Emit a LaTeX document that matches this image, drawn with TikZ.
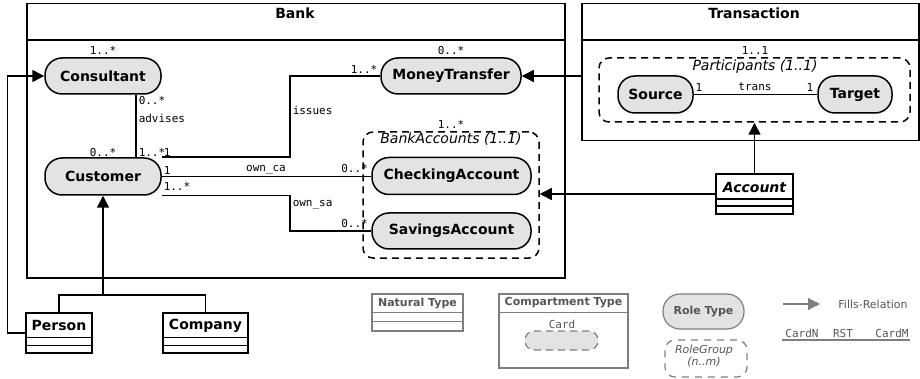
\documentclass[tikz,border=0pt]{standalone}
\usepackage{fontspec}
\setmainfont{DejaVu Sans}
\newfontfamily\monof{DejaVu Sans Mono}
\usetikzlibrary{arrows.meta}
\definecolor{rolefill}{HTML}{E3E3E3}
\definecolor{lgline}{HTML}{7F7F7F}
\definecolor{lgtext}{HTML}{555555}
\tikzset{
  role/.style={draw, fill=rolefill, rounded corners=17pt, inner sep=0pt, font=\fontsize{14}{16}\selectfont\bfseries},
  card/.style={inner sep=0pt, font=\monof\fontsize{11}{13}\selectfont},
  grplabel/.style={inner sep=0pt, font=\fontsize{14}{16}\selectfont\itshape},
  fills/.style={-{Triangle[length=12pt,width=12pt]}},
  rgroup/.style={draw, dash pattern=on 7pt off 5pt, rounded corners=10pt, inner sep=0pt},
  compbox/.style={draw, inner sep=0pt, anchor=north west},
  header/.style={inner sep=0pt, font=\fontsize{14}{16}\selectfont\bfseries},
  cls/.style={draw, inner sep=0pt},
  clsname/.style={inner sep=0pt, font=\fontsize{14}{16}\selectfont\bfseries},
  lg/.style={draw=lgline, line width=1.2pt},
  lgtxt/.style={inner sep=0pt, text=lgtext},
}
\begin{document}
\begin{tikzpicture}[x=1pt, y=-1pt, line width=1.5pt]
\useasboundingbox (0,0) rectangle (920,379);

% ---------- Bank compartment ----------
\node[compbox, minimum width=538pt, minimum height=274pt] (bank) at (26,3) {};
\draw ([yshift=-37pt]bank.north west) -- ([yshift=-37pt]bank.north east);
\node[header] (bankname) at (295,13) {Bank};

% ---------- Transaction compartment ----------
\node[compbox, minimum width=337pt, minimum height=137pt] (tbox) at (581,3) {};
\draw ([yshift=-37pt]tbox.north west) -- ([yshift=-37pt]tbox.north east);
\node[header] (tname) at (754,13) {Transaction};

% ---------- groups ----------
\node[rgroup, minimum width=176pt, minimum height=126pt] (bagrp) at (451,195) {};
\node[grplabel] (balbl) at (451,139) {BankAccounts (1..1)};
\node[card] (bacard) at (451,124) {1..*};

\node[rgroup, minimum width=311pt, minimum height=64pt] (pgrp) at (754.5,90) {};
\node[grplabel] (plbl) at (755,67) {Participants (1..1)};
\node[card] (pcard) at (755,50) {1..1};

% ---------- roles ----------
\node[role, minimum width=116pt, minimum height=36pt] (cons) at (103,76) {Consultant};
\node[role, minimum width=116pt, minimum height=37pt] (cust) at (103,176.5) {Customer};
\node[role, minimum width=140pt, minimum height=36pt] (mt) at (451,76) {MoneyTransfer};
\node[role, minimum width=159pt, minimum height=37pt] (chk) at (451.5,176) {CheckingAccount};
\node[role, minimum width=159pt, minimum height=36pt] (sav) at (451.5,231) {SavingsAccount};
\node[role, minimum width=75pt, minimum height=37pt] (src) at (655.5,94.5) {Source};
\node[role, minimum width=74pt, minimum height=37pt] (tgt) at (855,94.5) {Target};

% ---------- natural types ----------
\node[cls, minimum width=77pt, minimum height=40pt] (acct) at (754.5,194) {};
\node[clsname, font=\fontsize{14}{16}\selectfont\bfseries\itshape] (acctname) at (754.5,187) {Account};
\draw ([yshift=-26pt]acct.north west) -- ([yshift=-26pt]acct.north east);
\draw ([yshift=-33pt]acct.north west) -- ([yshift=-33pt]acct.north east);

\node[cls, minimum width=66pt, minimum height=40pt] (person) at (59,333) {};
\node[clsname] (pname) at (59,325.5) {Person};
\draw ([yshift=-25pt]person.north west) -- ([yshift=-25pt]person.north east);
\draw ([yshift=-33pt]person.north west) -- ([yshift=-33pt]person.north east);

\node[cls, minimum width=85pt, minimum height=40pt] (comp) at (205.5,333) {};
\node[clsname] (cname) at (205.5,325.5) {Company};
\draw ([yshift=-25pt]comp.north west) -- ([yshift=-25pt]comp.north east);
\draw ([yshift=-33pt]comp.north west) -- ([yshift=-33pt]comp.north east);

% ---------- relationships ----------
\draw ([xshift=33pt]cons.south) -- ([xshift=33pt]cust.north);
\node[card, anchor=west] (c1) at (138,100) {0..*};
\node[card, anchor=west] (adv) at (138,118) {advises};
\node[card] (c2) at (103,50) {1..*};
\node[card] (c3) at (103,152) {0..*};
\node[card, anchor=west] (c4) at (138,152) {1..*};

\coordinate (jx) at (290,0);
\draw (cust.north east) -| (jx |- mt.west) -- (mt.west);
\node[card, anchor=west] (c5) at (163,152) {1};
\node[card, anchor=west] (iss) at (292,110) {issues};
\node[card, anchor=east] (c6) at (378,69) {1..*};
\node[card] (c7) at (451,50) {0..*};

\draw (cust.east) -- (cust.east -| chk.west);
\node[card, anchor=west] (c8) at (163,170) {1};
\node[card] (oca) at (266,170) {own\_ca};
\node[card] (c9) at (354.5,168) {0..*};

\draw (cust.south east) -| (jx |- sav.west) -- (sav.west);
\node[card, anchor=west] (c10) at (163,186) {1..*};
\node[card, anchor=west] (osa) at (292,205) {own\_sa};
\node[card] (c11) at (354.5,223) {0..*};

\draw (src.east) -- (tgt.west);
\node[card] (c12) at (699,87) {1};
\node[card] (trn) at (755,87) {trans};
\node[card] (c13) at (810,87) {1};

% ---------- fills relations ----------
\draw[fills] (tbox.west |- mt.east) -- (mt.east);
\draw[fills] (acct.west) -- (acct.west -| bagrp.east);
\draw[fills] (acct.north) -- (pgrp.south);
\draw[fills] (person.west) -- ++(-18,0) |- (cons.west);
\coordinate (gen) at (103,295);
\draw (person.north) |- (gen) -| (comp.north);
\draw[fills] (gen) -- (cust.south);

% ---------- legend ----------
\node[cls, lg, minimum width=91pt, minimum height=37pt] (lnat) at (417.5,312.5) {};
\node[lgtxt, font=\fontsize{11}{13}\selectfont\bfseries] (lnatname) at (417.5,303.5) {Natural Type};
\draw[lg] ([yshift=-19pt]lnat.north west) -- ([yshift=-19pt]lnat.north east);
\draw[lg] ([yshift=-28pt]lnat.north west) -- ([yshift=-28pt]lnat.north east);

\node[cls, lg, minimum width=129pt, minimum height=74pt] (lcomp) at (563.5,331) {};
\node[lgtxt, font=\fontsize{11}{13}\selectfont\bfseries] (lcompname) at (563.5,303) {Compartment Type};
\draw[lg] ([yshift=-19pt]lcomp.north west) -- ([yshift=-19pt]lcomp.north east);
\node[lgtxt, font=\monof\fontsize{11}{13}\selectfont] (lcard) at (562,324) {Card};
\node[draw=lgline, line width=1.2pt, fill=rolefill, dash pattern=on 7pt off 5pt, rounded corners=9pt, minimum width=73pt, minimum height=19pt, inner sep=0pt] (lgpill) at (561.5,340.5) {};

\node[role, draw=lgline, line width=1.2pt, text=lgtext, font=\fontsize{11}{13}\selectfont\bfseries, minimum width=81pt, minimum height=35pt] (lrole) at (703.5,311.5) {Role Type};
\node[rgroup, draw=lgline, line width=1.2pt, minimum width=82pt, minimum height=37pt, dash pattern=on 7pt off 6pt] (lrg) at (706,358.5) {};
\node[lgtxt, font=\fontsize{11}{13}\selectfont\itshape] (lrg1) at (704,350) {RoleGroup};
\node[lgtxt, font=\fontsize{11}{13}\selectfont\itshape] (lrg2) at (704,362.5) {(n..m)};

\coordinate (fa) at (783,304);
\coordinate (fb) at (820,304);
\draw[lg, -{Triangle[length=12pt,width=12pt]}] (fa) -- (fb);
\node[lgtxt, font=\fontsize{11}{13}\selectfont] (lfills) at (873,304) {Fills-Relation};
\node[lgtxt, font=\monof\fontsize{11}{13}\selectfont] (lcn) at (802,333) {CardN};
\node[lgtxt, font=\monof\fontsize{11}{13}\selectfont] (lrst) at (843,333) {RST};
\node[lgtxt, font=\monof\fontsize{11}{13}\selectfont] (lcm) at (892,333) {CardM};
\coordinate (ua) at (782,340);
\coordinate (ub) at (910,340);
\draw[lg] (ua) -- (ub);
\end{tikzpicture}
\end{document}
